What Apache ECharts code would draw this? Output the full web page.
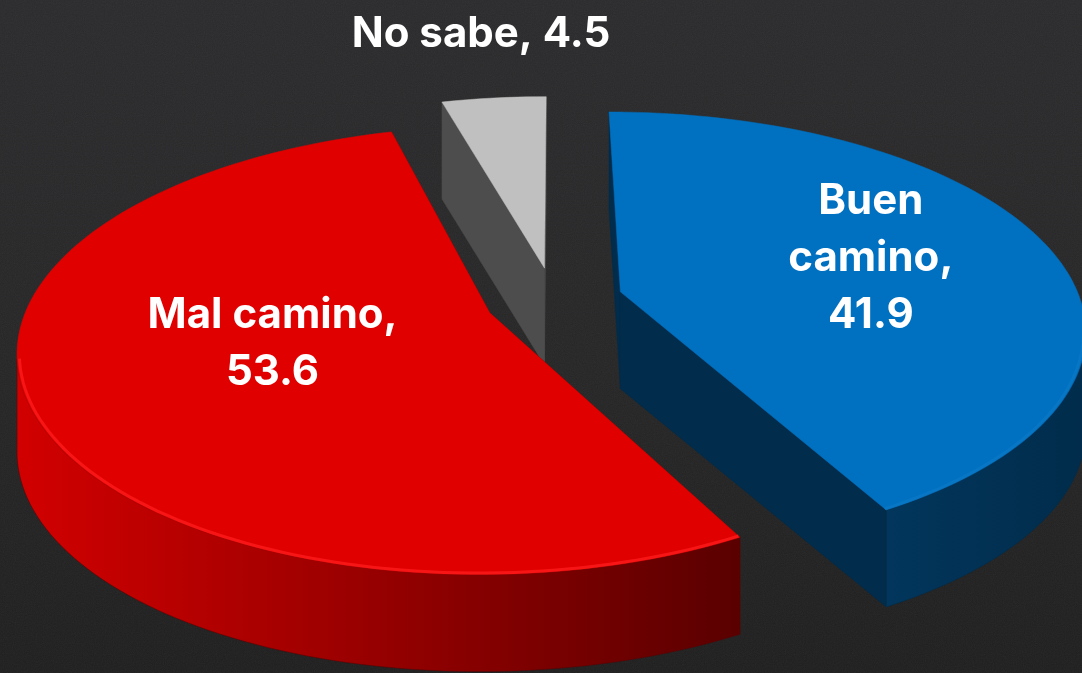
<!DOCTYPE html>
<html><head><meta charset="utf-8">
<script src="https://cdn.jsdelivr.net/npm/echarts@6/dist/echarts.min.js"></script>
<style>
html,body{margin:0;padding:0;}
body{background:
 url("data:image/svg+xml;utf8,<svg xmlns='http://www.w3.org/2000/svg' width='1082' height='673'><filter id='n'><feTurbulence type='fractalNoise' baseFrequency='0.9' numOctaves='2' seed='3'/><feColorMatrix type='saturate' values='0'/></filter><rect width='100%' height='100%' filter='url(%23n)' opacity='0.06'/></svg>"),
 linear-gradient(180deg,#2b2b2d 0%,#262627 55%,#1f1f1f 100%);}
#c{width:1082px;height:673px;}
</style>
</head><body><div id="c"></div>
<script>
// ---- data ----
const categories = ['Buen\ncamino', 'Mal camino', 'No sabe'];
const values = [41.9, 53.6, 4.5];
const labelSeparators = [',\n', ',\n', ', '];

// ---- styling / geometry ----
const G = {cx: 554, cy: 300, rx: 460, ry: 220, p: 0.17, depth: 97, explode: 0.15};
const styles = [
  {top: '#0070c0', side: '#012c4b', wall: ['#02365c', '#012c4b'], rim: '#0a78c6'},
  {top: '#e00000', side: '#6a0000', wall: ['#d20000', '#5a0000'], rim: '#ff1c1c'},
  {top: '#c0c0c0', side: '#4d4d4d', wall: ['#5a5a5a', '#4a4a4a'], rim: '#cccccc'}
];
const labelCfg = [
  {r: 0.58, dx: 2, dy: -2},
  {r: 0.48, dx: -3, dy: -12},
  {r: 1.6, dx: 7, dy: 3}
];

const total = values.reduce((a, b) => a + b, 0);
const starts = [];
values.reduce((acc, v, i) => { starts[i] = acc; return acc + v; }, 0);

function proj(u, w, drop) {
  const s = 1 + G.p * w;
  return [G.cx + G.rx * u * s, G.cy + G.ry * w * s + (drop || 0)];
}

// back-to-front order by explode direction
const order = values.map((v, i) => {
  const mid = (starts[i] + v / 2) / total * Math.PI * 2;
  return {i, w: -Math.cos(mid)};
}).sort((a, b) => a.w - b.w);
const rank = [];
order.forEach((o, k) => { rank[o.i] = k; });

function renderItem(params, api) {
  const i = params.dataIndex;
  const v = api.value(0), st = api.value(1);
  const a0 = st / total * Math.PI * 2;
  const a1 = (st + v) / total * Math.PI * 2;
  const mid = (a0 + a1) / 2;
  const ou = G.explode * Math.sin(mid), ow = -G.explode * Math.cos(mid);
  const rimUW = (t, r) => [ou + r * Math.sin(t), ow - r * Math.cos(t)];
  const P = (t, r, drop) => { const q = rimUW(t, r); return proj(q[0], q[1], drop); };
  const D = G.depth;
  const n = Math.max(6, Math.ceil((a1 - a0) / (Math.PI * 2) * 240));
  const ts = [];
  for (let k = 0; k <= n; k++) ts.push(a0 + (a1 - a0) * k / n);
  const st_ = styles[i];
  const base = rank[i] * 10;
  const apexT = proj(ou, ow, 0), apexB = proj(ou, ow, D);
  const children = [];
  // radial faces
  [a0, a1].forEach((t) => {
    children.push({type: 'polygon', z2: base + 1,
      shape: {points: [apexT, P(t, 1, 0), P(t, 1, D), apexB]},
      style: {fill: st_.side, stroke: st_.side, lineWidth: 0.5}});
  });
  // outer wall (front-facing part only: screen x decreasing with angle)
  const vis = [];
  for (let k = 0; k <= n; k++) {
    const t = ts[k];
    const x1 = P(t - 0.001, 1, 0)[0], x2 = P(t + 0.001, 1, 0)[0];
    if (x2 < x1) vis.push(t);
  }
  let xmin = Infinity, xmax = -Infinity;
  if (vis.length > 1) {
    const topPts = vis.map(t => P(t, 1, 0));
    const botPts = vis.map(t => P(t, 1, D)).reverse();
    topPts.forEach(q => { xmin = Math.min(xmin, q[0]); xmax = Math.max(xmax, q[0]); });
    children.push({type: 'polygon', z2: base + 2,
      shape: {points: topPts.concat(botPts)},
      style: {fill: new echarts.graphic.LinearGradient(xmin, 0, xmax, 0, [
        {offset: 0, color: st_.wall[0]}, {offset: 1, color: st_.wall[1]}], true),
        stroke: st_.wall[1], lineWidth: 0.5}});
  }
  // top face
  const topFace = [apexT].concat(ts.map(t => P(t, 1, 0)));
  children.push({type: 'polygon', z2: base + 3,
    shape: {points: topFace},
    style: {fill: st_.top, stroke: st_.top, lineWidth: 0.5}});
  // rim bevel highlight on visible front rim
  if (vis.length > 1) {
    children.push({type: 'polyline', z2: base + 4,
      shape: {points: vis.map(t => P(t, 0.995, 0))},
      style: {stroke: st_.rim, lineWidth: 3, fill: null, opacity: 0.75}});
  }
  // label
  const lc = labelCfg[i];
  const lq = rimUW(mid, lc.r);
  const lp = proj(lq[0], lq[1], 0);
  children.push({type: 'text', z2: 100,
    style: {text: categories[i] + labelSeparators[i] + v.toFixed(1),
      x: lp[0] + lc.dx, y: lp[1] + lc.dy, fill: '#ffffff',
      fontFamily: 'Inter', fontWeight: 'bold', fontSize: 42, lineHeight: 57,
      align: 'center', verticalAlign: 'middle'}});
  return {type: 'group', children};
}

const chart = echarts.init(document.getElementById('c'), null, {renderer: 'canvas'});
chart.setOption({
  backgroundColor: 'transparent',
  animation: false,
  series: [{
    type: 'custom',
    coordinateSystem: 'none',
    renderItem,
    data: values.map((v, i) => ({name: categories[i], value: [v, starts[i]]}))
  }]
});
</script>
</body></html>
